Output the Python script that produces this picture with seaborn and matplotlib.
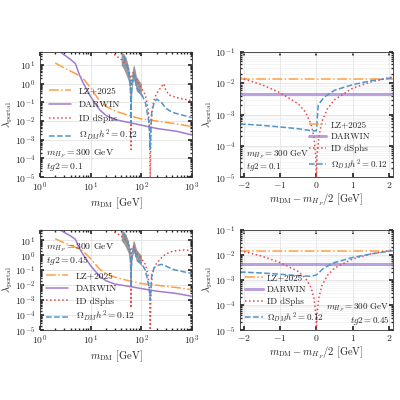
import numpy as np
import pandas as pd
import seaborn as sns
import matplotlib
matplotlib.use("Agg")
import matplotlib.pyplot as plt
from matplotlib.ticker import LogLocator, NullFormatter

sns.set_theme(style="ticks")
plt.rcParams.update({
    "font.family": ["cmr10", "DejaVu Serif"],
    "mathtext.fontset": "cm",
    "axes.formatter.use_mathtext": True,
    "font.size": 7,
    "axes.labelsize": 7.5,
    "legend.fontsize": 6.8,
    "xtick.direction": "in", "ytick.direction": "in",
    "xtick.top": True, "ytick.right": True,
    "xtick.labelsize": 7, "ytick.labelsize": 7,
    "xtick.major.size": 3, "ytick.major.size": 3,
    "xtick.minor.size": 1.5, "ytick.minor.size": 1.5,
    "xtick.major.pad": 2.5,
    "axes.linewidth": 0.6, "axes.edgecolor": "#333333",
})

C_LZ, C_DW, C_ID, C_RL = "#ff9f40", "#a07cd0", "#e8474b", "#4f94cd"

# ---- left panels (mass scan) ----
lz_x = [2, 3, 5, 7, 10, 15, 20, 30, 50, 70, 100, 200, 500, 1000]
lz_y = [13, 7, 3.5, 2, 0.6, 0.12, 0.06, 0.035, 0.022, 0.017, 0.013, 0.01, 0.007, 0.005]
dw_x = [2.5, 3, 4, 5, 6, 7, 10, 15, 20, 30, 50, 100, 200, 500, 1000]
dw_y = [50, 35, 20, 12, 3, 1.2, 0.2, 0.04, 0.02, 0.012, 0.009, 0.006, 0.004, 0.0028, 0.0018]

id1_x = [25, 40, 55, 61, 62.3, 62.5, 62.7, 64, 70, 80, 100, 120, 135, 145, 150, 155, 165, 180, 200, 250, 280, 300, 350, 500, 1000]
id1_y = [50, 20, 8, 2, 0.05, 3e-4, 0.05, 3, 4, 1.5, 0.6, 0.25, 0.05, 0.005, 1e-5, 0.005, 0.05, 0.15, 0.3, 0.7, 1.0, 0.5, 0.25, 0.18, 0.12]
id2_x = [25, 40, 55, 61, 62.3, 62.5, 62.7, 64, 70, 80, 100, 120, 135, 145, 150, 155, 165, 180, 200, 250, 300, 400, 500, 700, 1000]
id2_y = [50, 20, 8, 2, 0.05, 3e-4, 0.05, 3, 4, 1.5, 0.6, 0.25, 0.05, 0.005, 1e-5, 0.005, 0.05, 0.15, 0.3, 0.7, 1.2, 1.8, 2.1, 2.3, 2.1]

rl1_x = [45, 55, 60, 62, 62.5, 63, 65, 70, 75, 80, 90, 100, 120, 140, 148, 150, 152, 160, 180, 200, 250, 300, 400, 500, 1000]
rl1_y = [30, 6, 1.5, 0.1, 0.008, 0.1, 1, 3, 2, 0.6, 0.4, 0.3, 0.1, 0.01, 0.001, 3e-4, 0.001, 0.03, 0.1, 0.15, 0.1, 0.05, 0.03, 0.025, 0.015]
rl2_x = [45, 55, 60, 62, 62.5, 63, 65, 70, 75, 80, 90, 100, 120, 140, 148, 150, 152, 160, 180, 200, 250, 300, 400, 500, 1000]
rl2_y = [30, 6, 1.5, 0.1, 0.008, 0.1, 1, 3, 2, 0.6, 0.4, 0.3, 0.1, 0.01, 0.002, 0.001, 0.002, 0.05, 0.15, 0.2, 0.25, 0.2, 0.12, 0.1, 0.06]

band_x = [40, 45, 50, 55, 58, 60, 61.5, 63.5, 65, 68, 72, 76, 80, 90, 100]
band_lo = [10, 6, 3, 1.5, 0.6, 0.2, 0.08, 0.08, 0.4, 1.2, 1.5, 0.8, 0.4, 0.3, 0.2]
band_hi = [50, 40, 25, 10, 4, 1.3, 0.4, 0.4, 3, 8, 10, 5, 2.5, 1.5, 1.0]

# ---- right panels (resonance zoom) ----
dx_lz = [-2.1, 2.1]
lz_flat = [0.014, 0.014]
dw_flat = [0.0045, 0.0045]
idr_x = [-2.1, -1.5, -1, -0.5, -0.3, -0.15, -0.07, -0.02, 0, 0.02, 0.07, 0.15, 0.3, 0.5, 1, 1.5, 2.1]
idr_y = [0.015, 0.009, 0.005, 0.0022, 0.0012, 5e-4, 2e-4, 5e-5, 1e-5, 5e-5, 2e-4, 6e-4, 1.5e-3, 3e-3, 7e-3, 0.011, 0.016]
rr1_x = [-2.1, -1.5, -1, -0.5, -0.1, 0, 0.05, 0.2, 0.5, 1, 1.5, 2.1]
rr1_y = [5e-4, 4.5e-4, 4e-4, 3.5e-4, 3e-4, 3e-4, 2e-3, 3.5e-3, 6e-3, 9e-3, 0.012, 0.015]
rr2_x = [-2.1, -1.5, -1, -0.5, -0.15, 0, 0.2, 0.5, 1, 1.5, 2.1]
rr2_y = [2.1e-3, 1.9e-3, 1.7e-3, 1.5e-3, 1.4e-3, 1.6e-3, 3e-3, 5e-3, 8e-3, 0.011, 0.015]

fig = plt.figure(figsize=(4, 4), dpi=100)
ax_tl = fig.add_axes([0.1, 0.5575, 0.38, 0.3125])
ax_tr = fig.add_axes([0.6, 0.5575, 0.382, 0.3125])
ax_bl = fig.add_axes([0.1, 0.175, 0.38, 0.25])
ax_br = fig.add_axes([0.6, 0.175, 0.382, 0.25])

def logticks(ax, axis="y"):
    a = ax.yaxis if axis == "y" else ax.xaxis
    a.set_major_locator(LogLocator(base=10, numticks=20))
    a.set_minor_locator(LogLocator(base=10, subs=np.arange(2, 10), numticks=20))
    a.set_minor_formatter(NullFormatter())

def left(ax, idx, idy, rx, ry, txt, txt_first):
    ax.fill_between(band_x, band_lo, band_hi, color="gray", alpha=0.8, lw=0)
    sns.lineplot(x=lz_x, y=lz_y, ax=ax, color=C_LZ, lw=1.1, linestyle="-.", label="LZ+2025")
    sns.lineplot(x=dw_x, y=dw_y, ax=ax, color=C_DW, lw=1.1, label="DARWIN")
    sns.lineplot(x=idx, y=idy, ax=ax, color=C_ID, lw=1.1, linestyle=":", label="ID dSphs")
    sns.lineplot(x=rx, y=ry, ax=ax, color=C_RL, lw=1.1, linestyle="--", label=r"$\Omega_{DM}h^2=0.12$")
    ax.set_xscale("log"); ax.set_yscale("log")
    ax.set_xlim(1, 1000); ax.set_ylim(1e-5, 50)
    logticks(ax, "y"); logticks(ax, "x")
    ax.set_xlabel(r"$m_{\rm DM}$ [GeV]", labelpad=1)
    ax.set_ylabel(r"$\lambda_{\rm portal}$", labelpad=0)
    ax.grid(True, which="major", color="#dddddd", lw=0.5)
    if txt_first:
        ax.legend(loc="lower left", bbox_to_anchor=(0.0, 0.2), frameon=False, handlelength=2.4, labelspacing=0.55)
        ax.text(0.04, 0.03, txt, transform=ax.transAxes, fontsize=7, va="bottom")
    else:
        ax.legend(loc="lower left", frameon=False, handlelength=2.4, labelspacing=0.4, borderaxespad=0.2)
        ax.text(0.04, 0.63, txt, transform=ax.transAxes, fontsize=7, va="bottom", linespacing=1.0)

def right(ax, rx, ry, txt, legloc, txtpos):
    sns.lineplot(x=dx_lz, y=lz_flat, ax=ax, color=C_LZ, lw=1.1, linestyle="-.", label="LZ+2025")
    sns.lineplot(x=dx_lz, y=dw_flat, ax=ax, color=C_DW, lw=2.2, alpha=0.7, label="DARWIN")
    sns.lineplot(x=idr_x, y=idr_y, ax=ax, color=C_ID, lw=1.1, linestyle=":", label="ID dSphs")
    sns.lineplot(x=rx, y=ry, ax=ax, color=C_RL, lw=1.1, linestyle="--", label=r"$\Omega_{DM}h^2=0.12$")
    ax.set_yscale("log")
    ax.set_xlim(-2.1, 2.1); ax.set_ylim(1e-5, 1e-1)
    logticks(ax, "y")
    ax.set_xticks([-2, -1, 0, 1, 2])
    ax.set_xlabel(r"$m_{\rm DM}-m_{H_P}/2$ [GeV]", labelpad=1)
    ax.set_ylabel(r"$\lambda_{\rm portal}$", labelpad=0)
    ax.grid(True, which="major", color="#dddddd", lw=0.5)
    ax.grid(True, which="minor", axis="y", color="#eeeeee", lw=0.4)
    ax.legend(loc=legloc, frameon=False, handlelength=1.9, handletextpad=0.5,
              labelspacing=0.4, borderaxespad=0.2, fontsize=6.5)
    ax.text(*txtpos, txt, transform=ax.transAxes, fontsize=6.5, va="bottom", linespacing=1.0,
            ha="left" if txtpos[0] < 0.5 else "right")

left(ax_tl, id1_x, id1_y, rl1_x, rl1_y, "$m_{H_P}=300$ GeV\n$tg2=0.1$", True)
left(ax_bl, id2_x, id2_y, rl2_x, rl2_y, "$m_{H_P}=300$ GeV\n$tg2=0.45$", False)
right(ax_tr, rr1_x, rr1_y, "$m_{H_P}=300$ GeV\n$tg2=0.1$", "lower right", (0.04, 0.03))
right(ax_br, rr2_x, rr2_y, "$m_{H_P}=300$ GeV\n$tg2=0.45$", "lower left", (0.98, 0.03))

fig.savefig("out.png", dpi=100)
